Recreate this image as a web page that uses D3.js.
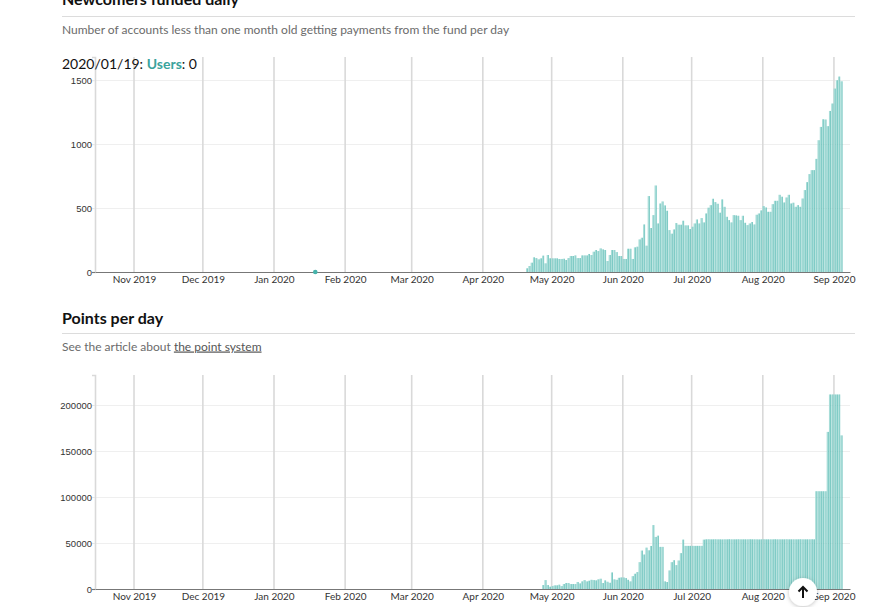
<!DOCTYPE html>
<html><head><meta charset="utf-8">
<script src="https://cdn.jsdelivr.net/npm/d3@7"></script>
<style>
body{margin:0;background:#fff;font-family:Lato,"Open Sans",sans-serif;}
svg{display:block}
</style></head><body>
<svg id="c" width="870" height="607"></svg>
<script>
// ---------- data ----------
const firstDay = "2020-04-20";           // date of first value in the series below (one value per day)
const axisStart = "2019-10-15";
const axisEnd = "2020-09-08";

const newcomers = [
  29,47,73,115,109,99,107,128,68,133,107,107,107,107,102,102,104,94,109,125,
  125,130,109,109,130,130,130,141,133,159,172,164,185,177,172,86,133,172,172,156,
  125,125,102,102,182,182,102,193,198,255,268,372,206,594,344,445,677,380,536,552,
  521,479,328,300,333,383,370,370,401,365,365,336,
  354,380,411,380,422,388,458,503,523,573,547,534,464,568,510,432,406,388,445,443,
  440,406,440,385,367,380,391,372,448,458,482,516,505,471,471,531,557,557,604,589,
  544,583,604,536,542,510,523,510,575,641,703,766,797,797,885,1031,1135,1195,1193,1141,
  1260,1318,1435,1500,1529,1492
];

const points = [
  0,0,0,0,0,0,0,
  4300,9700,4300,2500,3200,4000,4000,4700,3200,5400,
  6500,6500,5400,5400,5400,7600,6100,8300,9700,8300,
  9000,10000,9700,9400,10500,11200,6500,9400,7900,6800,
  18000,10500,10000,12200,12600,12600,11900,10000,8300,14000,
  16600,18400,29200,41800,37500,45000,42100,46800,69500,56600,
  58000,45800,45800,
  8300,7600,20200,29200,31300,26000,31000,39000,53700,
  46900,46900,46900,46900,46900,46900,46900,46900,
  53700,54000,54100,54000,54000,54100,54000,54000,53900,54000,
  54000,54100,54000,54000,54000,54100,54000,54000,54000,54000,
  54100,54000,54000,54000,53900,54000,54100,54000,54000,54000,
  54000,54100,54000,54000,54000,54000,54100,54000,54000,54000,
  54000,54000,54100,54000,54000,54000,54000,54100,54000,
  106300,106300,106300,106300,106300,
  170800,
  211500,211500,211500,211500,211500,
  167000
];

const yTicksTop = [0, 500, 1000, 1500];
const yTicksBottom = [0, 50000, 100000, 150000, 200000];
const xTickFormat = "%b %Y";

const title1 = "Newcomers funded daily";
const subtitle1 = "Number of accounts less than one month old getting payments from the fund per day";
const title2 = "Points per day";
const subtitle2a = "See the article about ";
const subtitle2b = "the point system";
const hoverDate = "2020-01-19";
const hoverValue = 0;
const hoverLabel = "Users";

// ---------- drawing ----------
const teal = "#45b3ab";
const tealLight = "#a8ddd8";
const parse = d3.utcParse("%Y-%m-%d");
const svg = d3.select("#c");

const x = d3.scaleUtc().domain([parse(axisStart), parse(axisEnd)]).range([95, 850]);
const day0 = parse(firstDay);
const dates = newcomers.map((_, i) => d3.utcDay.offset(day0, i));
const step = x(d3.utcDay.offset(day0, 1)) - x(day0);

function header(yTitle, yRule, title) {
  svg.append("text").attr("x", 62).attr("y", yTitle)
    .attr("font-family", "Lato").attr("font-weight", 700).attr("font-size", 16)
    .attr("fill", "#111").text(title);
  svg.append("line").attr("x1", 62).attr("x2", 855).attr("y1", yRule).attr("y2", yRule)
    .attr("stroke", "#dcdcdc").attr("stroke-width", 1);
}

function chart(values, top, bottom, ticks) {
  const y = d3.scaleLinear().domain([0, d3.max(values) * 1.1]).range([bottom, top]);
  const g = svg.append("g");
  // horizontal grid
  g.append("g").selectAll("line").data(ticks.filter(t => t > 0)).join("line")
    .attr("x1", 95).attr("x2", 850).attr("y1", d => Math.round(y(d)) + 0.5).attr("y2", d => Math.round(y(d)) + 0.5)
    .attr("stroke", "#efefef");
  // vertical month grid
  const months = x.ticks(d3.utcMonth.every(1));
  g.append("g").selectAll("line").data(months).join("line")
    .attr("x1", d => x(d)).attr("x2", d => x(d)).attr("y1", top).attr("y2", bottom)
    .attr("stroke", "#d9d9d9").attr("stroke-width", 1.6);
  // y axis
  const ya = g.append("g").attr("transform", "translate(95,0)")
    .call(d3.axisLeft(y).tickValues(ticks).tickSize(3).tickPadding(0).tickFormat(d3.format("d")));
  ya.select(".domain").attr("stroke", "#d9d9d9").attr("stroke-width", 1.6);
  ya.selectAll(".tick line").attr("stroke", d => d === 0 ? "#777" : "#e6e6e6");
  ya.selectAll("text").attr("font-family", "Liberation Sans, Arial, sans-serif").attr("font-size", 9.5).attr("fill", "#333");
  // bars
  const bars = g.append("g");
  bars.selectAll("rect.l").data(values).join("rect").attr("class", "l")
    .attr("x", (d, i) => x(dates[i]) - 0.4).attr("width", step * 0.6)
    .attr("y", d => y(d)).attr("height", d => bottom - y(d)).attr("fill", tealLight);
  bars.selectAll("rect.d").data(values).join("rect").attr("class", "d")
    .attr("x", (d, i) => x(dates[i]) - 0.4 + step * 0.6).attr("width", step * 0.28)
    .attr("y", d => y(d)).attr("height", d => bottom - y(d)).attr("fill", teal);
  // x axis
  const xa = g.append("g").attr("transform", `translate(0,${bottom})`)
    .call(d3.axisBottom(x).ticks(d3.utcMonth.every(1)).tickFormat(d3.utcFormat(xTickFormat)).tickSize(0).tickPadding(4));
  xa.select(".domain").attr("stroke", "#777").attr("stroke-width", 1);
  xa.selectAll("text").attr("font-family", "Lato").attr("font-size", 10).attr("fill", "#333");
  return y;
}

// section 1
header(5, 16.5, title1);
svg.append("text").attr("x", 62).attr("y", 33.5).attr("font-family", "Lato").attr("font-size", 12)
  .attr("fill", "#6b6b6b").text(subtitle1);
const y1 = chart(newcomers, 57, 272, yTicksTop);
const lab = svg.append("text").attr("x", 62).attr("y", 69).attr("font-family", "Lato").attr("font-size", 14).attr("fill", "#111");
lab.append("tspan").text(d3.utcFormat("%Y/%m/%d")(parse(hoverDate)) + ": ");
lab.append("tspan").attr("fill", "#3aa39c").attr("font-weight", 700).text(hoverLabel);
lab.append("tspan").text(": " + hoverValue);
svg.append("circle").attr("cx", x(parse(hoverDate))).attr("cy", y1(hoverValue)).attr("r", 2.3).attr("fill", teal);

// section 2
header(323.5, 333.5, title2);
const sub2 = svg.append("text").attr("x", 62).attr("y", 350.5).attr("font-family", "Lato").attr("font-size", 12).attr("fill", "#6b6b6b");
sub2.append("tspan").text(subtitle2a);
sub2.append("tspan").attr("text-decoration", "underline").attr("fill", "#555").text(subtitle2b);
chart(points, 375, 589, yTicksBottom);

// scroll-to-top button
const defs = svg.append("defs");
const f = defs.append("filter").attr("id", "sh").attr("x", "-50%").attr("y", "-50%").attr("width", "200%").attr("height", "200%");
f.append("feDropShadow").attr("dx", 0).attr("dy", 1).attr("stdDeviation", 2).attr("flood-color", "#000").attr("flood-opacity", 0.25);
svg.append("circle").attr("cx", 803).attr("cy", 592).attr("r", 14).attr("fill", "#fff").attr("filter", "url(#sh)");
svg.append("path").attr("d", "M803,598V587M798.5,591.5L803,587L807.5,591.5")
  .attr("stroke", "#111").attr("stroke-width", 2).attr("fill", "none");
</script>
</body></html>
